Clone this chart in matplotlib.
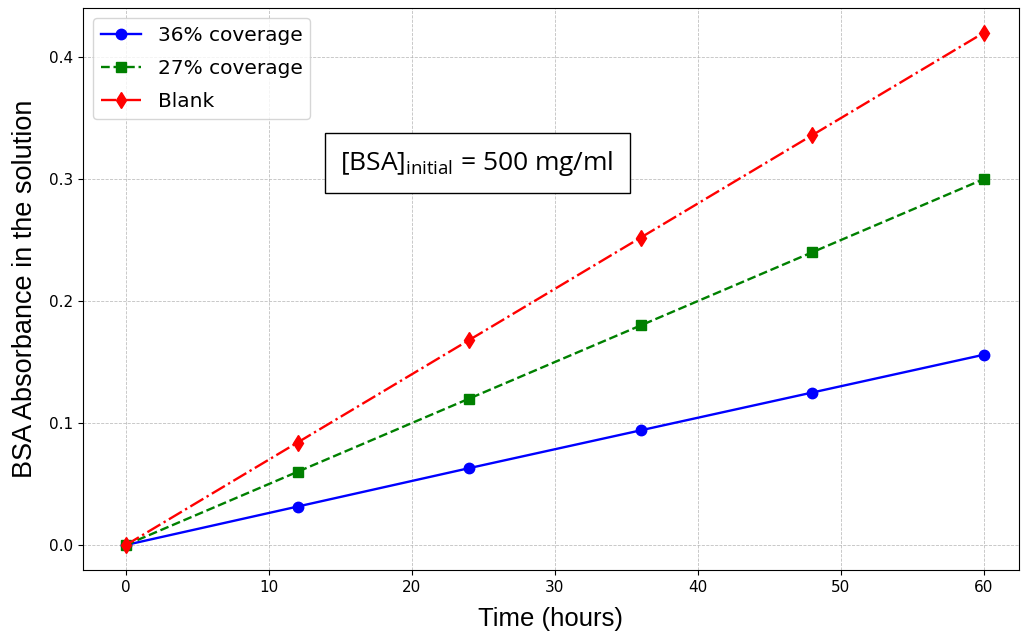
import matplotlib
matplotlib.use("Agg")
import matplotlib.pyplot as plt

time_hours = [0, 12, 24, 36, 48, 60]
cov36 = [0.0, 0.0315, 0.063, 0.094, 0.125, 0.156]
cov27 = [0.0, 0.06, 0.12, 0.18, 0.24, 0.30]
blank = [0.0, 0.084, 0.168, 0.252, 0.336, 0.42]

fig = plt.figure(figsize=(10.21, 6.31), dpi=100)
ax = fig.add_axes([83/1021, 1-570/631, (1019-83)/1021, (570-8)/631])

ax.plot(time_hours, cov36, color='blue', linestyle='-', marker='o', markersize=7.5, linewidth=1.7, label='36% coverage')
ax.plot(time_hours, cov27, color='green', linestyle='--', marker='s', markersize=6.5, linewidth=1.7, label='27% coverage')
ax.plot(time_hours, blank, color='red', linestyle='-.', marker='d', markersize=8.5, linewidth=1.7, label='Blank')

ax.set_xlim(-3, 62.45)
ax.set_ylim(-0.0205, 0.4402)
ax.set_xticks([0, 10, 20, 30, 40, 50, 60])
ax.set_yticks([0.0, 0.1, 0.2, 0.3, 0.4])
ax.tick_params(labelsize=11)
ax.grid(True, linestyle='--', linewidth=0.6, color='#b0b0b0', alpha=0.8)

ax.set_xlabel('Time (hours)', fontsize=18.5, family='Liberation Sans', labelpad=9)
ax.set_ylabel('BSA Absorbance in the solution', fontsize=19.5, family='Liberation Sans', labelpad=8)

ax.legend(loc='upper left', fontsize=14.5, handlelength=2.0, borderaxespad=0.5,
          borderpad=0.4, labelspacing=0.7, handletextpad=0.8)

ax.text(0.421, 0.724, r'[BSA]$_{\mathregular{initial}}$ = 500 mg/ml', transform=ax.transAxes,
        ha='center', va='center', fontsize=19, family='Open Sans',
        bbox=dict(boxstyle='square,pad=0.6', facecolor='white', edgecolor='black', linewidth=1))

fig.savefig('out.png', dpi=100)
